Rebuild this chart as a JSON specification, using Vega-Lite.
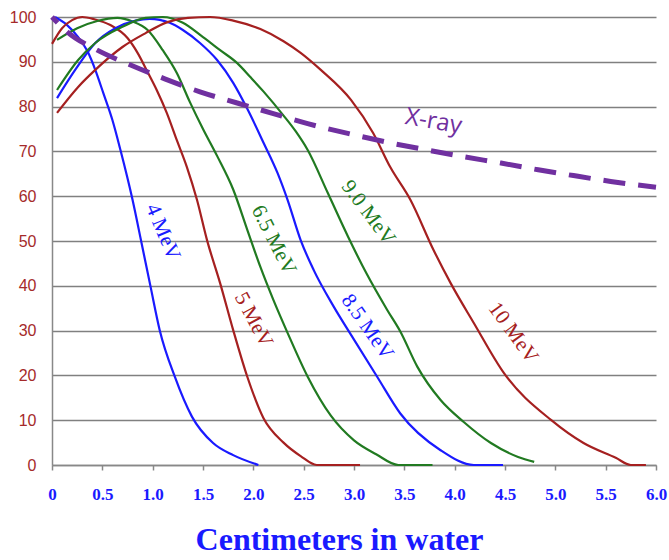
{
  "$schema": "https://vega.github.io/schema/vega-lite/v6.json",
  "autosize": {"type": "none"},
  "padding": {"left": 52, "top": 17, "right": 13, "bottom": 95},
  "width": 604,
  "height": 448,
  "background": "white",
  "config": {"view": {"stroke": null}},
  "datasets": {
    "curves": [
      {"energy": "4 MeV", "depth": 0.03, "dose": 100},
      {"energy": "4 MeV", "depth": 0.15, "dose": 98.2},
      {"energy": "4 MeV", "depth": 0.26, "dose": 95.5},
      {"energy": "4 MeV", "depth": 0.36, "dose": 92},
      {"energy": "4 MeV", "depth": 0.43, "dose": 88.2},
      {"energy": "4 MeV", "depth": 0.51, "dose": 83},
      {"energy": "4 MeV", "depth": 0.6, "dose": 77},
      {"energy": "4 MeV", "depth": 0.68, "dose": 70.3},
      {"energy": "4 MeV", "depth": 0.8, "dose": 59.2},
      {"energy": "4 MeV", "depth": 0.89, "dose": 49.5},
      {"energy": "4 MeV", "depth": 0.98, "dose": 39.7},
      {"energy": "4 MeV", "depth": 1.07, "dose": 30.1},
      {"energy": "4 MeV", "depth": 1.22, "dose": 19.7},
      {"energy": "4 MeV", "depth": 1.39, "dose": 10.8},
      {"energy": "4 MeV", "depth": 1.6, "dose": 4.9},
      {"energy": "4 MeV", "depth": 1.8, "dose": 2.2},
      {"energy": "4 MeV", "depth": 2.05, "dose": 0},

      {"energy": "5 MeV", "depth": 0.0, "dose": 94},
      {"energy": "5 MeV", "depth": 0.1, "dose": 97.5},
      {"energy": "5 MeV", "depth": 0.2, "dose": 99.3},
      {"energy": "5 MeV", "depth": 0.3, "dose": 100},
      {"energy": "5 MeV", "depth": 0.42, "dose": 99.5},
      {"energy": "5 MeV", "depth": 0.58, "dose": 98.2},
      {"energy": "5 MeV", "depth": 0.75, "dose": 95.3},
      {"energy": "5 MeV", "depth": 0.85, "dose": 92},
      {"energy": "5 MeV", "depth": 0.95, "dose": 87.7},
      {"energy": "5 MeV", "depth": 1.04, "dose": 83.7},
      {"energy": "5 MeV", "depth": 1.14, "dose": 78.6},
      {"energy": "5 MeV", "depth": 1.24, "dose": 72.5},
      {"energy": "5 MeV", "depth": 1.34, "dose": 66.5},
      {"energy": "5 MeV", "depth": 1.44, "dose": 59.2},
      {"energy": "5 MeV", "depth": 1.54, "dose": 50.2},
      {"energy": "5 MeV", "depth": 1.67, "dose": 40.6},
      {"energy": "5 MeV", "depth": 1.8, "dose": 30.1},
      {"energy": "5 MeV", "depth": 1.94, "dose": 19.7},
      {"energy": "5 MeV", "depth": 2.1, "dose": 10.5},
      {"energy": "5 MeV", "depth": 2.3, "dose": 5},
      {"energy": "5 MeV", "depth": 2.47, "dose": 2},
      {"energy": "5 MeV", "depth": 2.63, "dose": 0},
      {"energy": "5 MeV", "depth": 3.06, "dose": 0},

      {"energy": "6.5 MeV", "depth": 0.05, "dose": 94.9},
      {"energy": "6.5 MeV", "depth": 0.25, "dose": 97.5},
      {"energy": "6.5 MeV", "depth": 0.45, "dose": 99.1},
      {"energy": "6.5 MeV", "depth": 0.65, "dose": 99.8},
      {"energy": "6.5 MeV", "depth": 0.8, "dose": 99},
      {"energy": "6.5 MeV", "depth": 0.95, "dose": 97.1},
      {"energy": "6.5 MeV", "depth": 1.1, "dose": 92.6},
      {"energy": "6.5 MeV", "depth": 1.24, "dose": 87.5},
      {"energy": "6.5 MeV", "depth": 1.37, "dose": 81},
      {"energy": "6.5 MeV", "depth": 1.5, "dose": 75},
      {"energy": "6.5 MeV", "depth": 1.64, "dose": 69},
      {"energy": "6.5 MeV", "depth": 1.8, "dose": 61.5},
      {"energy": "6.5 MeV", "depth": 1.94, "dose": 52.5},
      {"energy": "6.5 MeV", "depth": 2.07, "dose": 44.2},
      {"energy": "6.5 MeV", "depth": 2.2, "dose": 36.8},
      {"energy": "6.5 MeV", "depth": 2.34, "dose": 29.5},
      {"energy": "6.5 MeV", "depth": 2.54, "dose": 19.7},
      {"energy": "6.5 MeV", "depth": 2.77, "dose": 11},
      {"energy": "6.5 MeV", "depth": 3.0, "dose": 5.5},
      {"energy": "6.5 MeV", "depth": 3.22, "dose": 2.4},
      {"energy": "6.5 MeV", "depth": 3.44, "dose": 0},
      {"energy": "6.5 MeV", "depth": 3.78, "dose": 0},

      {"energy": "8.5 MeV", "depth": 0.05, "dose": 81.9},
      {"energy": "8.5 MeV", "depth": 0.23, "dose": 88.2},
      {"energy": "8.5 MeV", "depth": 0.43, "dose": 94.2},
      {"energy": "8.5 MeV", "depth": 0.63, "dose": 97.5},
      {"energy": "8.5 MeV", "depth": 0.83, "dose": 99.2},
      {"energy": "8.5 MeV", "depth": 0.97, "dose": 99.6},
      {"energy": "8.5 MeV", "depth": 1.17, "dose": 98.7},
      {"energy": "8.5 MeV", "depth": 1.3, "dose": 97.1},
      {"energy": "8.5 MeV", "depth": 1.47, "dose": 94.2},
      {"energy": "8.5 MeV", "depth": 1.64, "dose": 90.4},
      {"energy": "8.5 MeV", "depth": 1.8, "dose": 85.3},
      {"energy": "8.5 MeV", "depth": 1.94, "dose": 79.5},
      {"energy": "8.5 MeV", "depth": 2.1, "dose": 72},
      {"energy": "8.5 MeV", "depth": 2.24, "dose": 65.2},
      {"energy": "8.5 MeV", "depth": 2.34, "dose": 59.2},
      {"energy": "8.5 MeV", "depth": 2.47, "dose": 50.2},
      {"energy": "8.5 MeV", "depth": 2.6, "dose": 43.5},
      {"energy": "8.5 MeV", "depth": 2.8, "dose": 35.3},
      {"energy": "8.5 MeV", "depth": 3.0, "dose": 28},
      {"energy": "8.5 MeV", "depth": 3.23, "dose": 19.7},
      {"energy": "8.5 MeV", "depth": 3.46, "dose": 11.5},
      {"energy": "8.5 MeV", "depth": 3.86, "dose": 3.3},
      {"energy": "8.5 MeV", "depth": 4.19, "dose": 0},
      {"energy": "8.5 MeV", "depth": 4.48, "dose": 0},

      {"energy": "9.0 MeV", "depth": 0.05, "dose": 83.7},
      {"energy": "9.0 MeV", "depth": 0.26, "dose": 90.4},
      {"energy": "9.0 MeV", "depth": 0.43, "dose": 94.2},
      {"energy": "9.0 MeV", "depth": 0.7, "dose": 97.8},
      {"energy": "9.0 MeV", "depth": 0.93, "dose": 99.8},
      {"energy": "9.0 MeV", "depth": 1.1, "dose": 100},
      {"energy": "9.0 MeV", "depth": 1.3, "dose": 98.7},
      {"energy": "9.0 MeV", "depth": 1.5, "dose": 95.5},
      {"energy": "9.0 MeV", "depth": 1.67, "dose": 92.6},
      {"energy": "9.0 MeV", "depth": 1.84, "dose": 89.7},
      {"energy": "9.0 MeV", "depth": 1.97, "dose": 86.6},
      {"energy": "9.0 MeV", "depth": 2.1, "dose": 83.4},
      {"energy": "9.0 MeV", "depth": 2.3, "dose": 78},
      {"energy": "9.0 MeV", "depth": 2.42, "dose": 74.5},
      {"energy": "9.0 MeV", "depth": 2.54, "dose": 70.3},
      {"energy": "9.0 MeV", "depth": 2.74, "dose": 60.7},
      {"energy": "9.0 MeV", "depth": 2.94, "dose": 51},
      {"energy": "9.0 MeV", "depth": 3.13, "dose": 42.5},
      {"energy": "9.0 MeV", "depth": 3.33, "dose": 34.6},
      {"energy": "9.0 MeV", "depth": 3.46, "dose": 29.8},
      {"energy": "9.0 MeV", "depth": 3.63, "dose": 21.9},
      {"energy": "9.0 MeV", "depth": 3.86, "dose": 14.5},
      {"energy": "9.0 MeV", "depth": 4.09, "dose": 9.6},
      {"energy": "9.0 MeV", "depth": 4.36, "dose": 4.9},
      {"energy": "9.0 MeV", "depth": 4.63, "dose": 1.8},
      {"energy": "9.0 MeV", "depth": 4.79, "dose": 0.7},

      {"energy": "10 MeV", "depth": 0.05, "dose": 78.6},
      {"energy": "10 MeV", "depth": 0.26, "dose": 84.4},
      {"energy": "10 MeV", "depth": 0.43, "dose": 88.2},
      {"energy": "10 MeV", "depth": 0.7, "dose": 93.3},
      {"energy": "10 MeV", "depth": 0.93, "dose": 96.4},
      {"energy": "10 MeV", "depth": 1.14, "dose": 98.8},
      {"energy": "10 MeV", "depth": 1.35, "dose": 99.8},
      {"energy": "10 MeV", "depth": 1.57, "dose": 100},
      {"energy": "10 MeV", "depth": 1.8, "dose": 99.2},
      {"energy": "10 MeV", "depth": 2.07, "dose": 97.3},
      {"energy": "10 MeV", "depth": 2.3, "dose": 94.6},
      {"energy": "10 MeV", "depth": 2.47, "dose": 92},
      {"energy": "10 MeV", "depth": 2.67, "dose": 88.2},
      {"energy": "10 MeV", "depth": 2.97, "dose": 81.5},
      {"energy": "10 MeV", "depth": 3.19, "dose": 74.1},
      {"energy": "10 MeV", "depth": 3.36, "dose": 66.5},
      {"energy": "10 MeV", "depth": 3.56, "dose": 59.2},
      {"energy": "10 MeV", "depth": 3.79, "dose": 48},
      {"energy": "10 MeV", "depth": 3.96, "dose": 40.6},
      {"energy": "10 MeV", "depth": 4.19, "dose": 31.7},
      {"energy": "10 MeV", "depth": 4.49, "dose": 20.5},
      {"energy": "10 MeV", "depth": 4.96, "dose": 10},
      {"energy": "10 MeV", "depth": 5.28, "dose": 4.9},
      {"energy": "10 MeV", "depth": 5.6, "dose": 1.6},
      {"energy": "10 MeV", "depth": 5.75, "dose": 0},
      {"energy": "10 MeV", "depth": 5.9, "dose": 0}
    ],
    "xray": [
      {"depth": 0.0, "dose": 100},
      {"depth": 0.15, "dose": 96.7},
      {"depth": 0.45, "dose": 92.6},
      {"depth": 0.78, "dose": 89.3},
      {"depth": 1.12, "dose": 86.2},
      {"depth": 1.47, "dose": 83.3},
      {"depth": 1.84, "dose": 80.8},
      {"depth": 2.19, "dose": 78.5},
      {"depth": 2.54, "dose": 76.2},
      {"depth": 3.0, "dose": 73.7},
      {"depth": 3.36, "dose": 71.9},
      {"depth": 3.73, "dose": 70.3},
      {"depth": 4.09, "dose": 68.8},
      {"depth": 4.46, "dose": 67.4},
      {"depth": 4.83, "dose": 65.9},
      {"depth": 5.18, "dose": 64.6},
      {"depth": 5.55, "dose": 63.3},
      {"depth": 6.0, "dose": 62}
    ],
    "labels": [
      {"label": "4 MeV", "depth": 1.1, "dose": 52},
      {"label": "5 MeV", "depth": 2.0, "dose": 32.4},
      {"label": "6.5 MeV", "depth": 2.2, "dose": 50.2},
      {"label": "8.5 MeV", "depth": 3.13, "dose": 30.8},
      {"label": "9.0 MeV", "depth": 3.14, "dose": 56.3},
      {"label": "10 MeV", "depth": 4.58, "dose": 29.5},
      {"label": "X-ray", "depth": 3.79, "dose": 76.6}
    ]
  },
  "encoding": {
    "x": {
      "field": "depth", "type": "quantitative",
      "scale": {"domain": [0, 6], "nice": false, "zero": false},
      "axis": {
        "title": "Centimeters in water",
        "values": [0, 0.5, 1, 1.5, 2, 2.5, 3, 3.5, 4, 4.5, 5, 5.5, 6],
        "labelExpr": "datum.value == 0 ? '0' : format(datum.value, '.1f')",
        "grid": false,
        "domainColor": "#888888", "domainWidth": 1.5,
        "tickColor": "#888888", "tickSize": 5, "tickWidth": 1.5,
        "labelFont": "Liberation Serif", "labelFontWeight": "bold", "labelFontSize": 17,
        "labelColor": "#1a1aff", "labelPadding": 16, "labelFlush": false,
        "titleFont": "Liberation Serif", "titleFontWeight": "bold", "titleFontSize": 32,
        "titleColor": "#1a1aff", "titleX": 287, "titleY": 84,
        "titleAlign": "center", "titleBaseline": "alphabetic"
      }
    },
    "y": {
      "field": "dose", "type": "quantitative",
      "scale": {"domain": [0, 100], "nice": false},
      "axis": {
        "title": null,
        "values": [0, 10, 20, 30, 40, 50, 60, 70, 80, 90, 100],
        "ticks": false,
        "grid": true, "gridColor": "#808080", "gridWidth": 1.6,
        "domainColor": "#888888", "domainWidth": 1.5,
        "labelFont": "Liberation Sans", "labelFontSize": 16,
        "labelColor": "#A52A2A", "labelPadding": 16
      }
    }
  },
  "layer": [
    {
      "data": {"name": "curves"},
      "mark": {"type": "line", "interpolate": "monotone", "strokeWidth": 2.2},
      "encoding": {
        "color": {
          "field": "energy", "type": "nominal", "legend": null,
          "scale": {
            "domain": ["4 MeV", "5 MeV", "6.5 MeV", "8.5 MeV", "9.0 MeV", "10 MeV"],
            "range": ["#1a1aff", "#A52020", "#217a21", "#1a1aff", "#217a21", "#A52020"]
          }
        }
      }
    },
    {
      "data": {"name": "xray"},
      "mark": {"type": "line", "interpolate": "monotone", "strokeWidth": 5, "color": "#7030A0", "strokeDash": [22, 13], "strokeDashOffset": 14},
      "encoding": {}
    },
    {
      "data": {"name": "labels"},
      "transform": [{"filter": "datum.label == '4 MeV'"}],
      "mark": {"type": "text", "font": "Liberation Serif", "fontSize": 21, "angle": 67, "color": "#1a1aff"},
      "encoding": {"text": {"field": "label"}}
    },
    {
      "data": {"name": "labels"},
      "transform": [{"filter": "datum.label == '5 MeV'"}],
      "mark": {"type": "text", "font": "Liberation Serif", "fontSize": 21, "angle": 62, "color": "#A52020"},
      "encoding": {"text": {"field": "label"}}
    },
    {
      "data": {"name": "labels"},
      "transform": [{"filter": "datum.label == '6.5 MeV'"}],
      "mark": {"type": "text", "font": "Liberation Serif", "fontSize": 21, "angle": 63, "color": "#217a21"},
      "encoding": {"text": {"field": "label"}}
    },
    {
      "data": {"name": "labels"},
      "transform": [{"filter": "datum.label == '8.5 MeV'"}],
      "mark": {"type": "text", "font": "Liberation Serif", "fontSize": 21, "angle": 55, "color": "#1a1aff"},
      "encoding": {"text": {"field": "label"}}
    },
    {
      "data": {"name": "labels"},
      "transform": [{"filter": "datum.label == '9.0 MeV'"}],
      "mark": {"type": "text", "font": "Liberation Serif", "fontSize": 21, "angle": 53, "color": "#217a21"},
      "encoding": {"text": {"field": "label"}}
    },
    {
      "data": {"name": "labels"},
      "transform": [{"filter": "datum.label == '10 MeV'"}],
      "mark": {"type": "text", "font": "Liberation Serif", "fontSize": 21, "angle": 54, "color": "#A52020"},
      "encoding": {"text": {"field": "label"}}
    },
    {
      "data": {"name": "labels"},
      "transform": [{"filter": "datum.label == 'X-ray'"}],
      "mark": {"type": "text", "font": "Open Sans", "fontSize": 24, "angle": 10, "color": "#7030A0"},
      "encoding": {"text": {"field": "label"}}
    }
  ]
}
